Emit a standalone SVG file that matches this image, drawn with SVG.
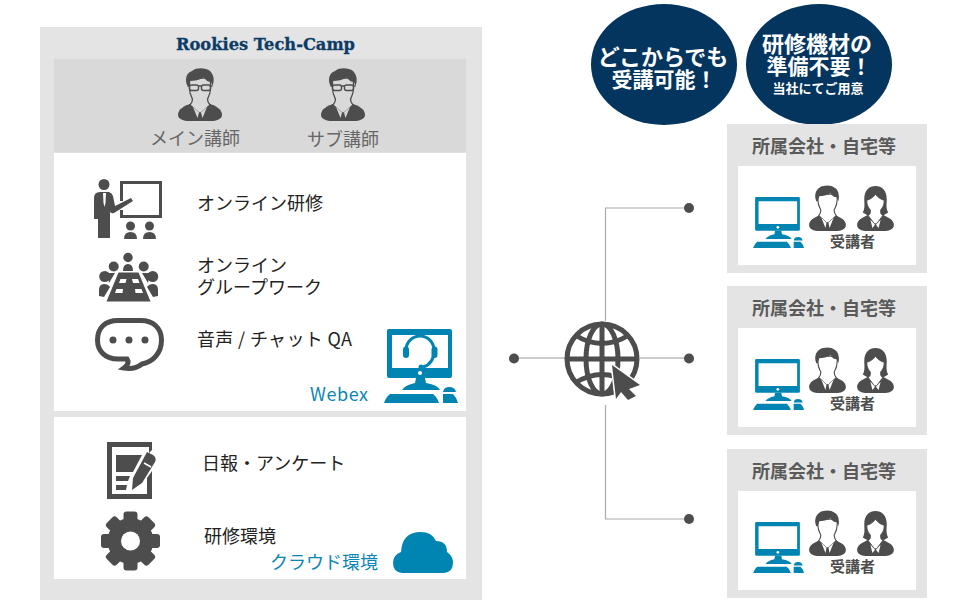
<svg xmlns="http://www.w3.org/2000/svg" width="960" height="609" viewBox="0 0 960 609">
<style>
text{font-family:"Noto Sans CJK JP","Noto Sans",sans-serif}
.t{font-size:18px;fill:#222}
.g{font-size:18px;fill:#666}
.b{font-size:18px;fill:#0a86b4}
.h{font-size:18px;font-weight:700;fill:#5a5a5a}
.s{font-size:15px;font-weight:700;fill:#4d4d4d}
.w{font-weight:700;fill:#fff;text-anchor:middle}
.d{fill:#4d4d4d}
.bl{fill:#0085b2}
.ln{stroke:#aaa;stroke-width:1.2;fill:none}
.ln2{stroke:#ccc;stroke-width:2;fill:none}
</style>
<defs>
<symbol id="man" viewBox="0 0 44 54" overflow="visible">
<path class="d" d="M0 47C0 41 6 38 14 35H30C38 38 44 41 44 47C44 51 38 53 33 53H11C6 53 0 51 0 47Z"/>
<path d="M11.500 20C11.500 26 13 28 14.500 31C14.500 34 13.500 35 12 37L21 45H23L32 37C30.500 35 29.500 34 29.500 31C31 28 32.500 26 32.500 20V10H11.500Z" stroke="#4d4d4d" stroke-width="1.300"/>
<path d="M15 39L21 44.500L19.500 50ZM29 39L23 44.500L24.500 50Z"/>
<path class="d" d="M9.500 18C6.500 12 8 5 14 3C19 -1 28 0 32 3C37 8 36 14 34.500 18L33 14C29 14 27 11 26 9C22 12 16 13 12 13L11 18Z"/>
<path d="M9.500 18H11.500M32.500 18H34.500M20.500 18H23.500" fill="none" stroke="#4d4d4d" stroke-width="1.400"/>
<rect x="11.500" y="17" width="9" height="5.500" rx="2" fill="none" stroke="#4d4d4d" stroke-width="1.400"/>
<rect x="23.500" y="17" width="9" height="5.500" rx="2" fill="none" stroke="#4d4d4d" stroke-width="1.400"/>
</symbol>
<symbol id="user" viewBox="0 0 36 46" overflow="visible">
<path class="d" d="M0 39C0 34 5 32 11 29H25C31 32 36 34 36 39C36 43 32 45 28 45H8C4 45 0 43 0 39Z"/>
<path d="M8.500 14C8.500 20 10 22 11.500 24.500C11.500 27 11 28 9.500 30L17 37H19L26.500 30C25 28 24.500 27 24.500 24.500C26 22 27.500 20 27.500 14V9H8.500Z" fill="#fff" stroke="#4d4d4d" stroke-width="1.100"/>
<path d="M12 32L17 37L16 42ZM24 32L19 37L20 42Z" fill="#fff"/>
<path class="d" d="M7 16C4 8 8 2 14 1C20 -1 29 2 29 10C29.500 12 29 14 28.500 16L27 12C24 12 22 10 21 8C18 10 13 11 10 11L8.500 16Z"/>
</symbol>
<symbol id="woman" viewBox="0 0 36 46" overflow="visible">
<path class="d" d="M0 39C0 34 5 32 11 29H25C31 32 36 34 36 39C36 43 32 45 28 45H8C4 45 0 43 0 39Z"/>
<path class="d" d="M5.500 27C8 23 7 18 7 14C7 5 12 1 18 1C24 1 29 5 29 14C29 18 28 23 30.500 27L25 30H11Z"/>
<path d="M9.500 15C9.500 20 11 22 13 24.500V27C13 28 12 29 11 30L17 38H19L25 30C24 29 23 28 23 27V24.500C25 22 26.500 20 26.500 15C23 14 20 12 18 9C16 12 13 14 9.500 15Z" fill="#fff" stroke="#4d4d4d" stroke-width=".8"/>
<path d="M13 34L17.500 39L15 42ZM23 34L18.500 39L21 42Z" fill="#fff"/>
</symbol>
<symbol id="pc" viewBox="0 0 73 74" overflow="visible">
<path class="bl" fill-rule="evenodd" d="M6 0H67Q69 0 69 2V47Q69 49 67 49H6Q4 49 4 47V2Q4 0 6 0ZM9 6V39H65V6Z"/>
<circle cx="37" cy="44" r="2" fill="#fff"/>
<path class="bl" d="M33 49H42L43 54Q55 56 57 61H19Q22 56 32 54Z"/>
<path class="bl" d="M7 65H50Q54 68 56 74H1Q3 68 7 65Z"/>
<path class="bl" d="M60 65H70Q74 69 75 74H60Z"/>
<path class="bl" d="M60 63Q61 58 66 58Q72 58 73 63Z"/>
</symbol>
</defs>

<g id="panel-left">
<rect x="40" y="27" width="442" height="573" fill="#e4e4e4"/>
<rect x="54" y="59" width="412" height="93.500" fill="#d9d9d9"/>
<rect x="54" y="153" width="412" height="258" fill="#fff"/>
<rect x="54" y="417" width="412" height="162" fill="#fff"/>
<text x="176" y="50" font-size="17" font-weight="700" fill="#0c3c66" stroke="#0c3c66" stroke-width=".3" textLength="179" lengthAdjust="spacingAndGlyphs" style="font-family:'DejaVu Serif',serif">Rookies Tech-Camp</text>
</g>

<g id="connectors">
<path class="ln" d="M689 208H605.500V321M605.500 405V519H689"/>
<path class="ln2" d="M514 358H565M640 358H689"/>
<circle class="d" cx="689" cy="208" r="5"/>
<circle class="d" cx="514" cy="358.500" r="5"/>
<circle class="d" cx="689" cy="358.500" r="5"/>
<circle class="d" cx="689" cy="519" r="5"/>
</g>

<g id="main-instructor">
<use href="#man" x="178" y="68" width="44" height="54" fill="#d9d9d9"/>
<text class="g" x="150" y="145">メイン講師</text>
</g>
<g id="sub-instructor">
<use href="#man" x="321" y="68" width="44" height="54" fill="#d9d9d9"/>
<text class="g" x="307" y="146">サブ講師</text>
</g>

<g id="online-training">
<circle class="d" cx="104" cy="184.500" r="5.500"/>
<path class="d" d="M94 198Q94 192 100 192H109Q112 193 113 196L115 206L131 198L133 201L114 213Q110 214 110 211V238H98V219H94Z"/>
<path d="M103 193H106L105.500 203L104.500 207L103.500 203Z" fill="#fff"/>
<path class="d" fill-rule="evenodd" d="M120 181H162V218H120V210H123V215H159V184H123V201H120Z"/>
<circle class="d" cx="130.500" cy="226" r="4.500"/>
<circle class="d" cx="149.500" cy="226" r="4.500"/>
<path class="d" d="M124 239Q124 232 130.500 232Q137 232 137 239ZM143 239Q143 232 149.500 232Q156 232 156 239Z"/>
<text class="t" x="197" y="210">オンライン研修</text>
</g>

<g id="online-group">
<circle class="d" cx="128" cy="257.500" r="4.700"/>
<circle class="d" cx="113.700" cy="266.500" r="5"/>
<circle class="d" cx="143.700" cy="266.500" r="5"/>
<circle class="d" cx="104.700" cy="276.500" r="5.500"/>
<circle class="d" cx="152.700" cy="276.500" r="5.500"/>
<path class="d" d="M123 271Q123 264 128 264Q133 264 133 271Z"/>
<path class="d" d="M107 273H115L109 283ZM150 273H142L148 283Z"/>
<path class="d" d="M99 296V290Q99 284 104 284Q108 284 110 287L104 297ZM158 296V290Q158 284 153 284Q149 284 147 287L153 297Z"/>
<path class="d" d="M118.500 272.500H138.500L150.500 301.500H106.500Z"/>
<path d="M120.500 279H126.500L125.500 283H119ZM132 279H138L139.500 283H133ZM116.500 289H123L122.500 293H115ZM135 289H141.500L143 293H135.500Z" fill="#fff"/>
<text class="t" x="197" y="272">オンライン</text>
<text class="t" x="197" y="294">グループワーク</text>
</g>

<g id="voice-chat">
<path d="M118 320.500H141C153 320.500 161.500 328 161.500 340C161.500 353 153 362 142 364C137 368 130 369 124 368C128 365 129 362 127 359H118C105 359 97.500 351 97.500 340C97.500 328 105 320.500 118 320.500Z" fill="none" stroke="#4d4d4d" stroke-width="5"/>
<circle class="d" cx="113" cy="340" r="3.500"/>
<circle class="d" cx="129" cy="340" r="3.500"/>
<circle class="d" cx="145" cy="340" r="3.500"/>
<text class="t" x="197" y="346" textLength="155">音声 / チャット QA</text>
</g>

<g id="webex">
<use href="#pc" x="383" y="329" width="73" height="74"/>
<path d="M406 350A14 14 0 0 1 434 350C434 360 430 365 423 367" fill="none" stroke="#0085b2" stroke-width="3"/>
<rect class="bl" x="403" y="346.500" width="6" height="11.500" rx="3"/>
<rect class="bl" x="431.500" y="346.500" width="6" height="11.500" rx="3"/>
<circle class="bl" cx="421" cy="367" r="2.500"/>
<text class="b" x="310" y="401" textLength="58">Webex</text>
</g>

<g id="daily-report">
<path class="d" fill-rule="evenodd" d="M107 442H152V450L149 453V447H112V494H147V478L152 471V499H107Z"/>
<path class="d" d="M116 455H142L133 472H116ZM116 476H130L128 481H116ZM116 485H127L126 490H116Z"/>
<path class="d" d="M147 452L153 455Q157 458 155 462L142 483L132 490L133 478Z"/>
<path d="M144 463L151 467" stroke="#fff" stroke-width="1.500" fill="none"/>
<text class="t" x="202" y="470">日報・アンケート</text>
</g>

<g id="environment">
<g class="d" transform="translate(130.500 541)">
<circle r="23"/>
<rect x="-7" y="-29.500" width="14" height="12" rx="3"/>
<rect x="-7" y="-29.500" width="14" height="12" rx="3" transform="rotate(45)"/>
<rect x="-7" y="-29.500" width="14" height="12" rx="3" transform="rotate(90)"/>
<rect x="-7" y="-29.500" width="14" height="12" rx="3" transform="rotate(135)"/>
<rect x="-7" y="-29.500" width="14" height="12" rx="3" transform="rotate(180)"/>
<rect x="-7" y="-29.500" width="14" height="12" rx="3" transform="rotate(225)"/>
<rect x="-7" y="-29.500" width="14" height="12" rx="3" transform="rotate(270)"/>
<rect x="-7" y="-29.500" width="14" height="12" rx="3" transform="rotate(315)"/>
<circle r="9.500" fill="#fff"/>
</g>
<text class="t" x="204" y="543">研修環境</text>
</g>

<g id="cloud">
<path class="bl" d="M402 573Q393 572 393 563Q393 555 401 552Q402 532 421 532Q432 532 436 541Q447 541 447 552Q453 556 453 563Q453 572 444 573Z"/>
<text class="b" x="270" y="569">クラウド環境</text>
</g>

<g id="internet">
<circle cx="602" cy="359" r="35" fill="#fff" stroke="#4d4d4d" stroke-width="5"/>
<ellipse cx="602" cy="359" rx="16" ry="35" fill="none" stroke="#4d4d4d" stroke-width="5"/>
<path d="M602 324V394M567 359H637M575 335Q602 352 629 335M575 383Q602 366 629 383" fill="none" stroke="#4d4d4d" stroke-width="5"/>
<path class="d" d="M612 365L640 385L629 389L636 396L628 400L621 392L616 399Z" stroke="#fff" stroke-width="3" paint-order="stroke"/>
</g>

<g id="badge-anywhere">
<ellipse cx="664" cy="64.500" rx="73" ry="60.500" fill="#04355f"/>
<text class="w" x="663" y="65" font-size="22">どこからでも</text>
<text class="w" x="664" y="87" font-size="21">受講可能！</text>
</g>
<g id="badge-equipment">
<ellipse cx="819" cy="64.500" rx="73" ry="60.500" fill="#04355f"/>
<text class="w" x="817" y="52" font-size="22">研修機材の</text>
<text class="w" x="819" y="74" font-size="21">準備不要！</text>
<text class="w" x="818" y="93" font-size="13">当社にてご用意</text>
</g>

<g id="site-1">
<rect x="727" y="124" width="200" height="149" fill="#e4e4e4"/>
<rect x="738" y="166" width="178" height="99" fill="#fff"/>
<text class="h" x="752" y="153">所属会社・自宅等</text>
<use href="#pc" x="752" y="197" width="51" height="51"/>
<use href="#user" x="809" y="185" width="37" height="47"/>
<use href="#woman" x="857" y="185" width="37" height="47"/>
<text class="s" x="830" y="247">受講者</text>
</g>
<g id="site-2">
<rect x="727" y="286" width="200" height="149" fill="#e4e4e4"/>
<rect x="738" y="328" width="178" height="99" fill="#fff"/>
<text class="h" x="752" y="315">所属会社・自宅等</text>
<use href="#pc" x="752" y="359" width="51" height="51"/>
<use href="#user" x="809" y="347" width="37" height="47"/>
<use href="#woman" x="857" y="347" width="37" height="47"/>
<text class="s" x="830" y="409">受講者</text>
</g>
<g id="site-3">
<rect x="727" y="449" width="200" height="149" fill="#e4e4e4"/>
<rect x="738" y="491" width="178" height="99" fill="#fff"/>
<text class="h" x="752" y="478">所属会社・自宅等</text>
<use href="#pc" x="752" y="522" width="51" height="51"/>
<use href="#user" x="809" y="510" width="37" height="47"/>
<use href="#woman" x="857" y="510" width="37" height="47"/>
<text class="s" x="830" y="572">受講者</text>
</g>
</svg>
